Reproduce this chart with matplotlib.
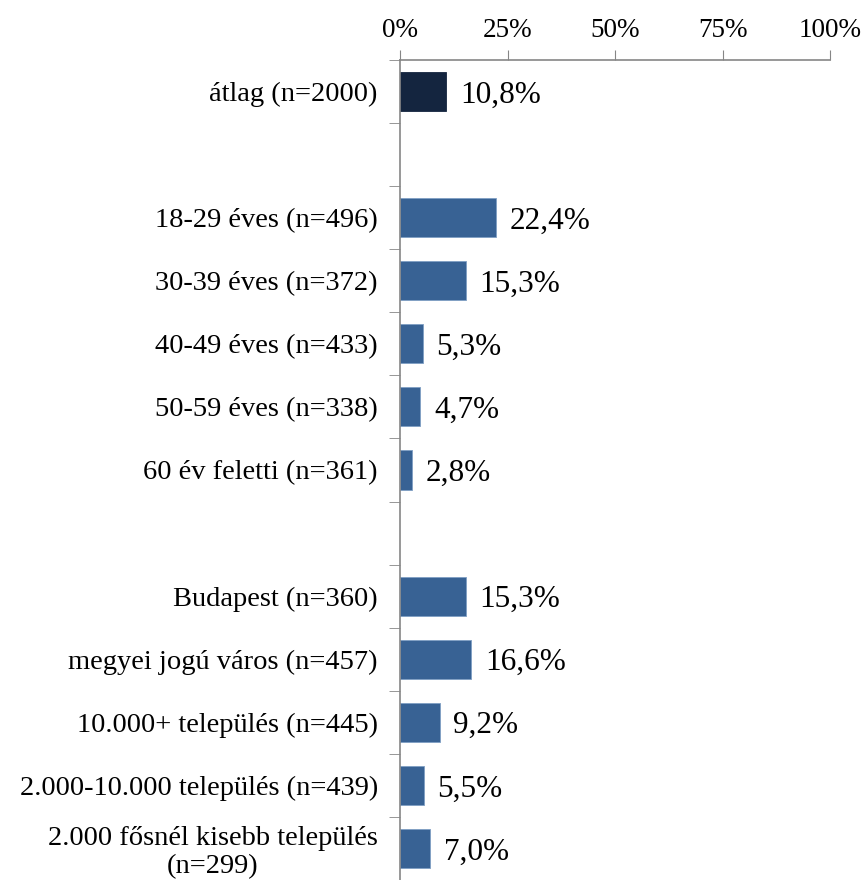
import matplotlib.pyplot as plt
import numpy as np

plt.rcParams['font.family'] = ['Liberation Serif', 'DejaVu Serif']

categories = ['átlag (n=2000)', '',
              '18-29 éves (n=496)', '30-39 éves (n=372)', '40-49 éves (n=433)',
              '50-59 éves (n=338)', '60 év feletti (n=361)', '',
              'Budapest (n=360)', 'megyei jogú város (n=457)',
              '10.000+ település (n=445)', '2.000-10.000 település (n=439)',
              '2.000 fősnél kisebb település\n(n=299)']
values = [10.8, None, 22.4, 15.3, 5.3, 4.7, 2.8, None, 15.3, 16.6, 9.2, 5.5, 7.0]
xticks = [0, 25, 50, 75, 100]

fig = plt.figure(figsize=(8.63, 8.80), dpi=100)
ax = fig.add_axes([400 / 863, 0.0, 430 / 863, 1 - 60 / 880])

y = np.arange(len(categories))
for i, v in enumerate(values):
    if v is None:
        continue
    color = '#14253f' if i == 0 else '#386294'
    ax.barh(i, v, height=0.62, color=color, edgecolor='#7f9fc4' if i else color, linewidth=0.6)
    ax.text(v + 3.2, i, f'{v:.1f}%'.replace('.', ','), va='center_baseline', ha='left', fontsize=22.5)

ax.set_xlim(0, 100)
ax.set_ylim(len(categories) - 0.5, -0.5)
ax.xaxis.tick_top()
ax.set_xticks(xticks)
ax.set_xticklabels([f'{t}%' for t in xticks], fontsize=19.5)
ax.tick_params(axis='x', length=7, color='#868686', pad=5)

ax.set_yticks(y)
ax.set_yticklabels(categories, fontsize=20.5, linespacing=1.15, multialignment='center')
ax.tick_params(axis='y', which='major', length=0, pad=16)
ax.set_yticks(np.arange(-0.5, len(categories), 1), minor=True)
ax.tick_params(axis='y', which='minor', length=8, color='#868686')

for s in ['right', 'bottom']:
    ax.spines[s].set_visible(False)
for s in ['top', 'left']:
    ax.spines[s].set_color('#868686')
    ax.spines[s].set_linewidth(1.2)

fig.savefig('out.png', dpi=100)
